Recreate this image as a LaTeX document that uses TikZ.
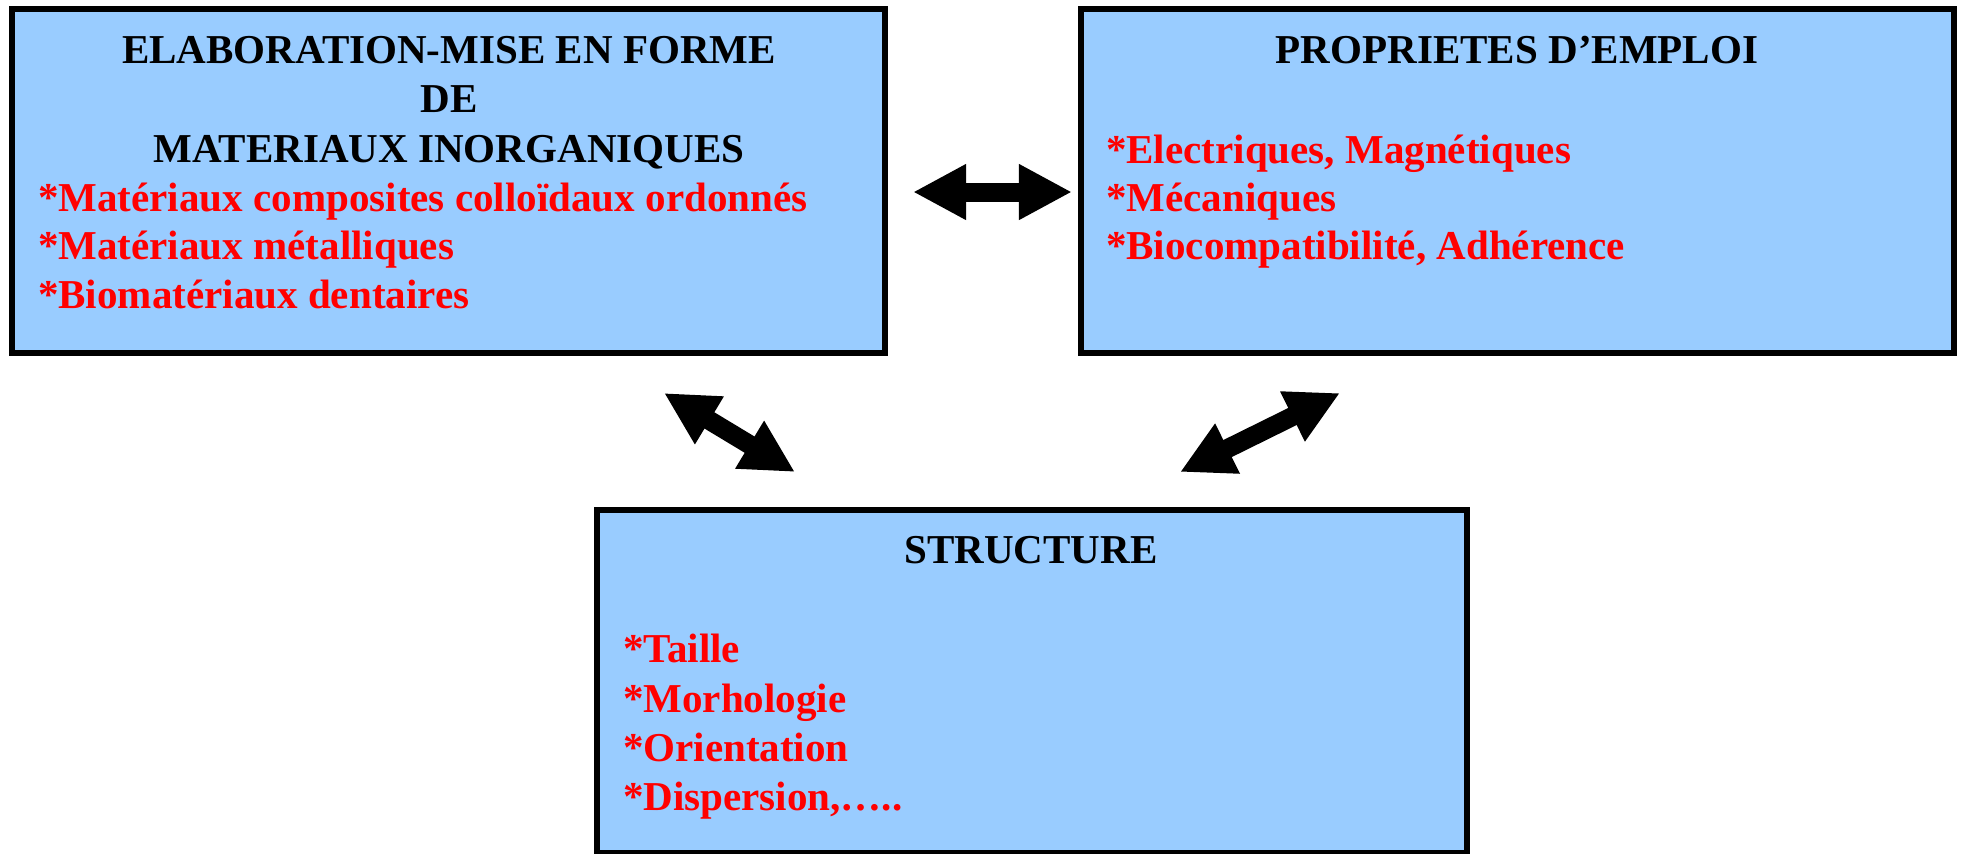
\documentclass[tikz,border=0pt]{standalone}
\usepackage{fontspec}
\setmainfont{Liberation Serif}
\usetikzlibrary{arrows.meta}
\definecolor{boxblue}{HTML}{99CCFF}
\definecolor{itemred}{HTML}{FF0000}

\tikzset{
  box/.style={draw=black, fill=boxblue, line width=0.06cm, inner sep=0pt,
    minimum width=8.73cm, minimum height=3.44cm},
  title/.style={anchor=base, inner sep=0pt, font=\fontsize{11.67}{14}\selectfont\bfseries},
  item/.style={anchor=base west, inner sep=0pt, text=itemred,
    font=\fontsize{11.67}{14}\selectfont\bfseries},
  bigarrow/.style={line width=0.19cm,
    {Triangle[length=0.53cm, width=0.52cm]}-{Triangle[length=0.53cm, width=0.52cm]}}
}

\begin{document}
\begin{tikzpicture}[x=0.01cm, y=-0.01cm, outer sep=0pt]

\useasboundingbox (0, 0) rectangle (1961, 853);

\node[box] at (448.5, 181) (ELAB) {};
\node[box] at (1517.5, 181) (PROP) {};
\node[box, minimum width=8.70cm, minimum height=3.43cm] at (1032, 681.5) (STRUCT) {};

% elaboration
\node[title] at (449, 63) (ELAB_T1) {ELABORATION-MISE EN FORME};
\node[title] at (449, 112) (ELAB_T2) {DE};
\node[title] at (449, 162) (ELAB_T3) {MATERIAUX INORGANIQUES};
\node[item] at (38, 211) (ELAB_I1) {*Matériaux composites colloïdaux ordonnés};
\node[item] at (38, 259) (ELAB_I2) {*Matériaux métalliques};
\node[item] at (38, 308) (ELAB_I3) {*Biomatériaux dentaires};

% proprietes
\node[title] at (1517, 63) (PROP_T1) {PROPRIETES D’EMPLOI};
\node[item] at (1106, 163) (PROP_I1) {*Electriques, Magnétiques};
\node[item] at (1106, 211) (PROP_I2) {*Mécaniques};
\node[item] at (1106, 259) (PROP_I3) {*Biocompatibilité, Adhérence};

% structure
\node[title] at (1031, 563) (STRUCT_T1) {STRUCTURE};
\node[item] at (623, 662) (STRUCT_I1) {*Taille};
\node[item] at (623, 712) (STRUCT_I2) {*Morhologie};
\node[item] at (623, 761) (STRUCT_I3) {*Orientation};
\node[item] at (623, 810) (STRUCT_I4) {*Dispersion,…..};

\coordinate (ELAB_PROP_A) at (913, 192);
\coordinate (ELAB_PROP_B) at (1072, 192);
\coordinate (ELAB_STRUCT_A) at (664, 393);
\coordinate (ELAB_STRUCT_B) at (795, 472);
\coordinate (PROP_STRUCT_A) at (1340, 393);
\coordinate (PROP_STRUCT_B) at (1180, 472);
    \draw [bigarrow] (ELAB_PROP_A) -- (ELAB_PROP_B);
    \draw [bigarrow] (ELAB_STRUCT_A) -- (ELAB_STRUCT_B);
    \draw [bigarrow] (PROP_STRUCT_A) -- (PROP_STRUCT_B);
\end{tikzpicture}
\end{document}
